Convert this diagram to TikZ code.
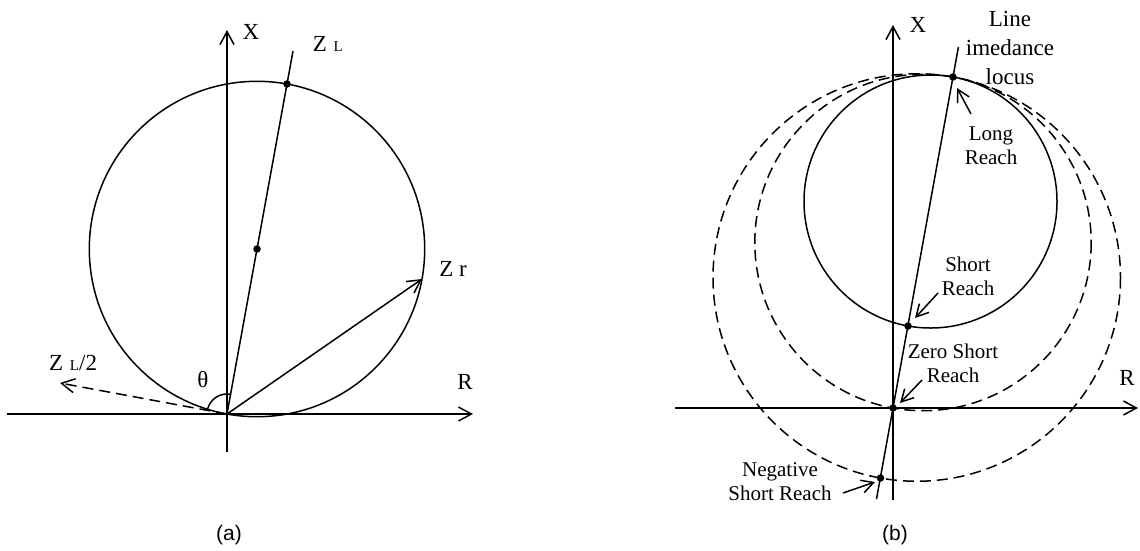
\documentclass[tikz,border=0pt]{standalone}
\usepackage{fontspec}
\setmainfont{Liberation Serif}
\newfontfamily\sansf{Liberation Sans}
\usetikzlibrary{arrows.meta,calc}
\begin{document}
\begin{tikzpicture}[x=1pt,y=-1pt,
  line width=1.5pt,
  axis/.style={-{Straight Barb[length=13pt,width=14pt]}},
  ptr/.style={-{Straight Barb[length=12pt,width=13pt]}},
  dotmark/.style={circle,fill,inner sep=0pt,minimum size=7.5pt},
  lbl/.style={font=\fontsize{23}{26}\selectfont, inner sep=0pt},
  rlbl/.style={font=\fontsize{21}{24}\selectfont, align=center, inner sep=0pt},
  bigl/.style={font=\fontsize{23}{29}\selectfont, align=center, inner sep=0pt},
  captxt/.style={font=\sansf\fontsize{21}{24}\selectfont, inner sep=0pt},
  dashedline/.style={dash pattern=on 11pt off 6pt}]
\useasboundingbox (0,0) rectangle (1140,550);

% ---------------- (a) ----------------
\coordinate (Oa) at (227,414);
\coordinate (Ca) at (257,249);
\coordinate (Ta) at (287,84);
\coordinate (Ea) at (293,51);
\coordinate (Ra) at (422,279);
\coordinate (Ha) at (60,383);
\coordinate (haL) at (7,414);
\coordinate (haR) at (473,414);
\coordinate (vaB) at (227,452);
\coordinate (vaT) at (227,30);

\draw[axis] (haL) -- (haR);
\draw[axis] (vaB) -- (vaT);
\draw (Ca) circle[radius=167.7];
\draw (Oa) -- (Ea);
\draw[axis] (Oa) -- (Ra);
\draw[axis, dashedline] (Oa) -- (Ha);
\draw (Oa) ++(-169.5:20) arc[start angle=-169.5, end angle=-79.7, radius=20];
\node[dotmark] (dCa) at (Ca) {};
\node[dotmark] (dTa) at (Ta) {};

\node[lbl] (Xa) at (251,32) {X};
\node[lbl, anchor=west] (ZLa) at (312,44) {Z\hspace{0.3em}{\fontsize{15}{15}\selectfont L}};
\node[lbl] (Zr) at (453,269) {Z\hspace{0.25em}r};
\node[lbl] (ZL2) at (73,363) {Z\hspace{0.3em}{\fontsize{15}{15}\selectfont L}/2};
\node[lbl] (th) at (203,380) {θ};
\node[lbl] (Rla) at (465,382) {R};
\node[captxt] (capa) at (229,535) {(a)};

% ---------------- (b) ----------------
\coordinate (Ob) at (893,408);
\coordinate (hbL) at (675,408);
\coordinate (hbR) at (1138,408);
\coordinate (vbB) at (893,500);
\coordinate (vbT) at (893,25);
\coordinate (Lb1) at (876.5,499);
\coordinate (Lb2) at (958.4,47);
\coordinate (Pl) at (953,77);
\coordinate (Ps) at (908,326);
\coordinate (Pn) at (880.5,478);

\draw[axis] (hbL) -- (hbR);
\draw[axis] (vbB) -- (vbT);
\draw (Lb1) -- (Lb2);
\draw (930.5,201.5) circle[radius=126.5];
\draw[dashedline] (923,242.5) circle[radius=168.2];
\draw[dashedline] (916.75,277.5) circle[radius=203.75];
\node[dotmark] (dPl) at (Pl) {};
\node[dotmark] (dPs) at (Ps) {};
\node[dotmark] (dOb) at (Ob) {};
\node[dotmark] (dPn) at (Pn) {};

\node[lbl] (Xb) at (918,25) {X};
\node[lbl] (Rlb) at (1127,378) {R};
\node[bigl] (locus) at (1010,48) {Line\\imedance\\locus};
\node[rlbl] (long) at (991,146) {Long\\Reach};
\node[rlbl] (short) at (968,276) {Short\\Reach};
\node[rlbl] (zero) at (953,363) {Zero Short\\Reach};
\node[rlbl] (neg) at (780,482) {Negative\\Short Reach};
\node[captxt] (capb) at (895,535) {(b)};

\coordinate (tLong) at (971,114);
\coordinate (hLong) at (957,88);
\coordinate (tShort) at (938,293);
\coordinate (hShort) at (915,318);
\coordinate (tZero) at (922,380);
\coordinate (hZero) at (900,403);
\coordinate (tNeg) at (843,493);
\coordinate (hNeg) at (875,482);
\draw[ptr] (tLong) -- (hLong);
\draw[ptr] (tShort) -- (hShort);
\draw[ptr] (tZero) -- (hZero);
\draw[ptr] (tNeg) -- (hNeg);
\end{tikzpicture}
\end{document}
